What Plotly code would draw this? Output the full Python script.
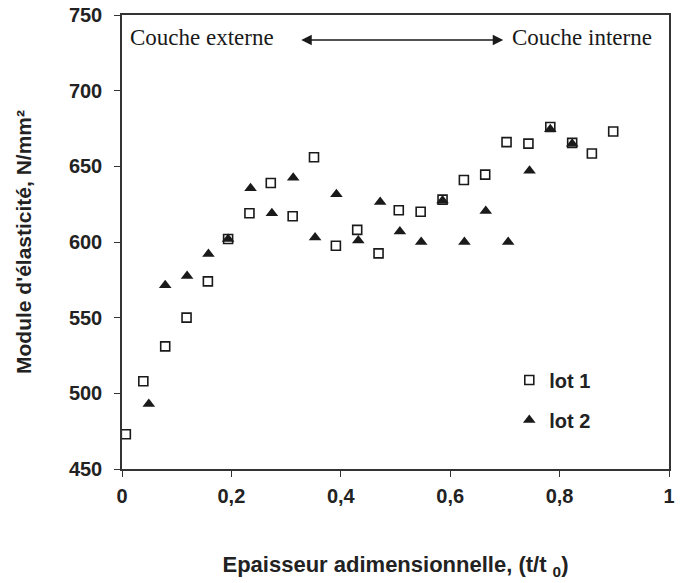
import plotly.graph_objects as go

# Lot 1 (open squares)
x_lot1 = [0.007, 0.039, 0.079, 0.118, 0.157, 0.194, 0.233, 0.272, 0.312, 0.351, 0.391, 0.430,
          0.469, 0.506, 0.546, 0.586, 0.625, 0.664, 0.703, 0.743, 0.783, 0.823, 0.859, 0.898]
y_lot1 = [473, 508, 531, 550, 574, 602, 619, 639, 617, 656, 597.5, 608,
          592.5, 621, 620, 628, 641, 644.5, 666, 665, 676, 665.5, 658.5, 673]

# Lot 2 (filled triangles)
x_lot2 = [0.049, 0.079, 0.119, 0.158, 0.194, 0.235, 0.274, 0.313, 0.353, 0.392, 0.432,
          0.472, 0.508, 0.547, 0.586, 0.626, 0.665, 0.706, 0.745, 0.783, 0.823]
y_lot2 = [493, 571.5, 577.5, 592, 602, 635.5, 619, 642.5, 603, 631.5, 601,
          626.5, 607, 600, 627.5, 600, 620.5, 600, 647, 674.5, 665]

x_ticks = [0, 0.2, 0.4, 0.6, 0.8, 1]
x_tick_text = ["0", "0,2", "0,4", "0,6", "0,8", "1"]
y_ticks = [450, 500, 550, 600, 650, 700, 750]

sans = "Liberation Sans, Arial"
ink = "#222222"

fig = go.Figure()
fig.add_trace(go.Scatter(
    x=x_lot1, y=y_lot1, mode="markers", name="lot 1", legendgroup="g1",
    marker=dict(symbol="square-open", size=9, color="#1a1a1a", line=dict(width=1.6)),
))
fig.add_trace(go.Scatter(
    x=x_lot2, y=y_lot2, mode="markers", name="lot 2", legendgroup="g2",
    marker=dict(symbol="triangle-up", size=11, color="#1a1a1a"),
))

fig.update_xaxes(
    range=[0, 1], tickvals=x_ticks, ticktext=x_tick_text, automargin=False,
    showgrid=False, zeroline=False, showline=True, linecolor="#333333", linewidth=1.5,
    mirror=True, ticks="outside", ticklen=6, tickcolor="#333333",
    ticklabelstandoff=2,
    tickfont=dict(family=sans, size=20, color=ink, weight="bold"),
    title=dict(text="<b>Epaisseur adimensionnelle, (t/t <sub>0</sub>)</b>",
               font=dict(family=sans, size=22, color=ink),
               standoff=51),
)
fig.update_yaxes(
    range=[450, 750], tickvals=y_ticks, automargin=False,
    showgrid=False, zeroline=False, showline=True, linecolor="#333333", linewidth=1.5,
    mirror=True, ticks="outside", ticklen=6, tickcolor="#333333",
    ticklabelstandoff=8,
    tickfont=dict(family=sans, size=20, color=ink, weight="bold"),
    title=dict(text="<b>Module d'élasticité, N/mm²</b>",
               font=dict(family=sans, size=21, color=ink),
               standoff=32),
)

serif = dict(family="Liberation Serif, Times New Roman", size=23, color="#1a1a1a")
fig.add_annotation(x=0.011, y=735, xref="x", yref="y", text="Couche externe",
                   showarrow=False, xanchor="left", yanchor="middle", font=serif)
fig.add_annotation(x=0.973, y=735, xref="x", yref="y", text="Couche interne",
                   showarrow=False, xanchor="right", yanchor="middle", font=serif)
fig.add_annotation(x=0.697, y=733.5, ax=0.325, ay=733.5, xref="x", yref="y",
                   axref="x", ayref="y", text="", showarrow=True,
                   arrowhead=2, startarrowhead=2, arrowside="end+start",
                   arrowsize=1.5, startarrowsize=1.5, arrowwidth=1.4, arrowcolor="#1a1a1a")

fig.update_layout(
    width=685, height=583,
    margin=dict(l=122, r=16, t=15, b=114, autoexpand=False),
    paper_bgcolor="white", plot_bgcolor="white",
    showlegend=True,
    legend=dict(x=0.708, y=0.152, xanchor="left", yanchor="middle",
                bgcolor="rgba(0,0,0,0)", tracegroupgap=11, itemsizing="trace",
                font=dict(family=sans, size=20, color=ink, weight="bold")),
)

fig.write_html("out.html")
